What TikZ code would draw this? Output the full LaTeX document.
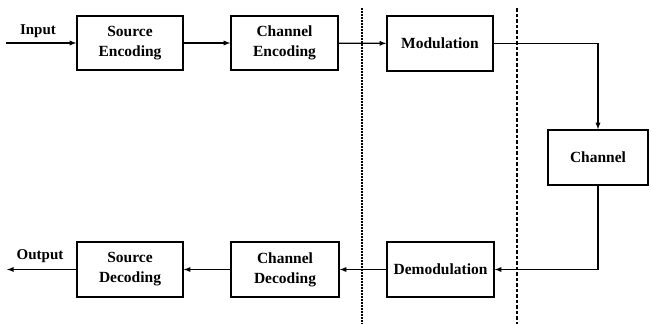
\documentclass[tikz,border=0pt]{standalone}
\usepackage{fontspec}
\setmainfont{Liberation Serif}
\usepackage{tikz}
\usetikzlibrary{calc}

\tikzset{
  blk/.style={draw, line width=1.4pt, align=center, inner sep=0pt,
    font=\fontsize{15.5}{20}\selectfont\bfseries},
  link/.style={line width=1.3pt, -latex},
  lbl/.style={font=\fontsize{15}{17}\selectfont\bfseries},
}

\begin{document}
\begin{tikzpicture}[x=1pt, y=-1pt]
    \useasboundingbox (0,0) rectangle (651,324);

    % transmitter
    \node[blk, minimum width=106pt, minimum height=54pt] (srcenc) at (130, 43) {Source\\Encoding};
    \node[blk, minimum width=107pt, minimum height=54pt] (chenc) at (284.5, 43) {Channel\\Encoding};
    \node[blk, minimum width=106pt, minimum height=55pt] (mod) at (440, 43.5) {Modulation};

    \node[blk, minimum width=100pt, minimum height=55pt] (chan) at (598, 157.5) {Channel};

    % receiver
    \node[blk, minimum width=107pt, minimum height=55pt] (demod) at (440.5, 269.5) {Demodulation};
    \node[blk, minimum width=108pt, minimum height=55pt] (chdec) at (285, 269.5) {Channel\\Decoding};
    \node[blk, minimum width=106pt, minimum height=55pt] (srcdec) at (130, 269.5) {Source\\Decoding};

    \coordinate (in) at (6, 43);
    \coordinate (out) at (7, 269.5);
    \node[lbl] (inlbl) at (38, 31) {Input};
    \node[lbl] (outlbl) at (40, 256) {Output};

    \draw[link] (in) -- (srcenc.west);
    \draw[link] (srcenc) -- (chenc);
    \draw[link] (chenc) -- (mod);
    \draw[link] (mod.east) -| (chan.north);
    \draw[link] (chan.south) |- (demod.east);
    \draw[link] (demod) -- (chdec);
    \draw[link] (chdec) -- (srcdec);
    \draw[link] (srcdec.west) -- (out);

    % borders
    \coordinate (d1a) at (362, 8);
    \coordinate (d1b) at (362, 324);
    \coordinate (d2a) at (517, 8);
    \coordinate (d2b) at (517, 324);
    \draw[line width=1.3pt, dash pattern=on 1.5pt off 1.5pt] (d1a) -- (d1b);
    \draw[line width=1.2pt, dash pattern=on 3.5pt off 2pt] (d2a) -- (d2b);
  \end{tikzpicture}
\end{document}
